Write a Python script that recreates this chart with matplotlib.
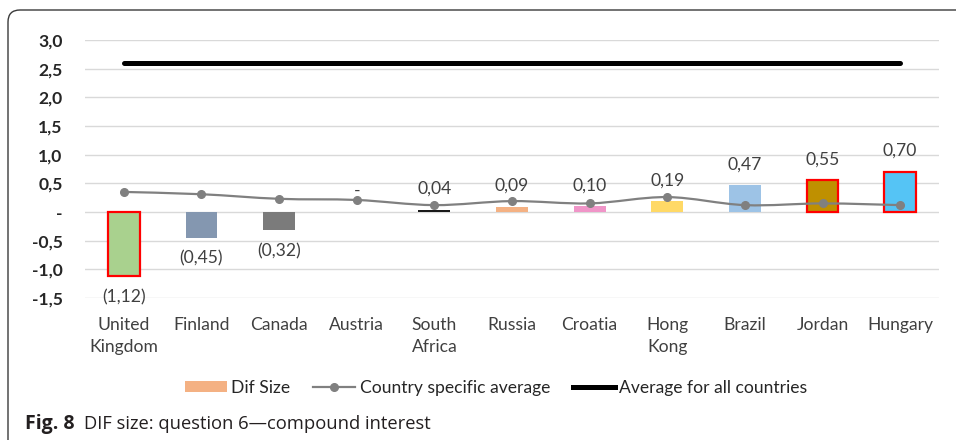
import matplotlib
matplotlib.use("Agg")
import matplotlib.pyplot as plt
from matplotlib.path import Path
from matplotlib.patches import PathPatch, FancyBboxPatch, Patch
from matplotlib.lines import Line2D
import numpy as np

# ---- data ----
countries = ["United\nKingdom", "Finland", "Canada", "Austria", "South\nAfrica",
             "Russia", "Croatia", "Hong\nKong", "Brazil", "Jordan", "Hungary"]
dif_size = [-1.12, -0.45, -0.32, 0.00, 0.04, 0.09, 0.10, 0.19, 0.47, 0.55, 0.70]
country_avg = [0.35, 0.31, 0.23, 0.21, 0.12, 0.19, 0.15, 0.26, 0.12, 0.15, 0.12]
avg_all_countries = [2.6, 2.6, 2.6, 2.6, 2.6, 2.6, 2.6, 2.6, 2.6, 2.6, 2.6]
flagged = [True, False, False, False, False, False, False, False, False, True, True]
bar_colors = ["#A9D18E", "#8497B0", "#7B7B7B", "#F4B183", "#1A1A1A", "#F4B183",
              "#F095C8", "#FFD966", "#9DC3E6", "#BF9000", "#55C4F5"]
yticks = [-1.5, -1.0, -0.5, 0.0, 0.5, 1.0, 1.5, 2.0, 2.5, 3.0]

caption_bold = "Fig. 8"
caption_text = "DIF size: question 6\u2014compound interest"


def fmt_value(v):
    if abs(v) < 1e-9:
        return "-"
    s = f"{abs(v):.2f}".replace(".", ",")
    return f"({s})" if v < 0 else s


def fmt_tick(v):
    if abs(v) < 1e-9:
        return "-"
    return f"{v:.1f}".replace(".", ",")


def smooth_path(xs, ys):
    # Catmull-Rom spline expressed as cubic Bezier segments
    pts = np.column_stack([xs, ys]).astype(float)
    n = len(pts)
    verts = [pts[0]]
    codes = [Path.MOVETO]
    for i in range(n - 1):
        p0 = pts[i - 1] if i > 0 else pts[i]
        p1 = pts[i]
        p2 = pts[i + 1]
        p3 = pts[i + 2] if i + 2 < n else pts[i + 1]
        c1 = p1 + (p2 - p0) / 6.0
        c2 = p2 - (p3 - p1) / 6.0
        verts += [c1, c2, p2]
        codes += [Path.CURVE4] * 3
    return Path(verts, codes)


plt.rcParams["font.family"] = ["Lato", "DejaVu Sans"]
FS = 12.6

fig = plt.figure(figsize=(9.56, 4.40), dpi=100)
ax = fig.add_axes([85 / 956, 1 - 298 / 440, (939 - 85) / 956, (298 - 40) / 440])

x = np.arange(len(countries))

# bars
for i, (v, c, f) in enumerate(zip(dif_size, bar_colors, flagged)):
    if abs(v) < 1e-9:
        continue
    ax.bar(x[i], v, width=0.41, color=c,
           edgecolor="#FF0000" if f else "none",
           linewidth=1.6 if f else 0, zorder=2)

# value labels
for i, v in enumerate(dif_size):
    off = -15 if v < 0 else 15
    ax.annotate(fmt_value(v), (x[i], v), xytext=(0, off), textcoords="offset points",
                ha="center", va="center", fontsize=FS, color="#404040", zorder=5)

# country specific average (smoothed line with markers)
ax.add_patch(PathPatch(smooth_path(x, country_avg), facecolor="none",
                       edgecolor="#808080", linewidth=1.6, zorder=3))
ax.plot(x, country_avg, linestyle="none", marker="o", markersize=5.5,
        color="#808080", zorder=4)

# average for all countries
ax.plot(x, avg_all_countries, color="black", linewidth=3.6,
        solid_capstyle="round", zorder=3)

ax.set_xlim(-0.5, len(countries) - 0.5)
ax.set_ylim(-1.5, 3.0)
ax.set_yticks(yticks)
ax.set_yticklabels([fmt_tick(t) for t in yticks], fontsize=FS, color="#262626",
                   fontweight="bold")
ax.set_xticks(x)
ax.set_xticklabels(countries, fontsize=FS, color="#404040", linespacing=1.45)
ax.tick_params(axis="both", length=0)
ax.tick_params(axis="y", pad=16)
ax.tick_params(axis="x", pad=14)
ax.grid(axis="y", color="#D9D9D9", linewidth=1.0, zorder=0)
ax.set_axisbelow(True)
for s in ax.spines.values():
    s.set_visible(False)

# legend
handles = [
    Patch(facecolor="#F4B183", edgecolor="none"),
    Line2D([0], [0], color="#808080", linewidth=1.6, marker="o", markersize=5.5),
    Line2D([0], [0], color="black", linewidth=3.6),
]
labels = ["Dif Size", "Country specific average", "Average for all countries"]
fig.legend(handles, labels, loc="center", bbox_to_anchor=(496 / 956, 1 - 388 / 440),
           ncol=3, frameon=False, fontsize=FS, handlelength=2.4, handleheight=0.6,
           handletextpad=0.25, columnspacing=1.3, labelcolor="#262626")

# caption
t = fig.text(25 / 956, 1 - 424 / 440, caption_bold, fontsize=14, fontweight="bold",
             family=["Open Sans", "DejaVu Sans"], va="center", ha="left", color="#231F20")
fig.canvas.draw()
bb = t.get_window_extent()
fig.text((bb.x1 + 10) / 956, 1 - 424 / 440, caption_text, fontsize=13.2,
         family=["Open Sans", "DejaVu Sans"], va="center", ha="left", color="#231F20")

# rounded frame open to the right and bottom
fig.patches.append(FancyBboxPatch((0.08, -0.6), 10.0, 4.30 + 0.6,
                                  boxstyle="round,pad=0,rounding_size=0.12",
                                  transform=fig.dpi_scale_trans, figure=fig,
                                  facecolor="none", edgecolor="#3A3A3A", linewidth=1.0))

fig.savefig("out.png", dpi=100)
